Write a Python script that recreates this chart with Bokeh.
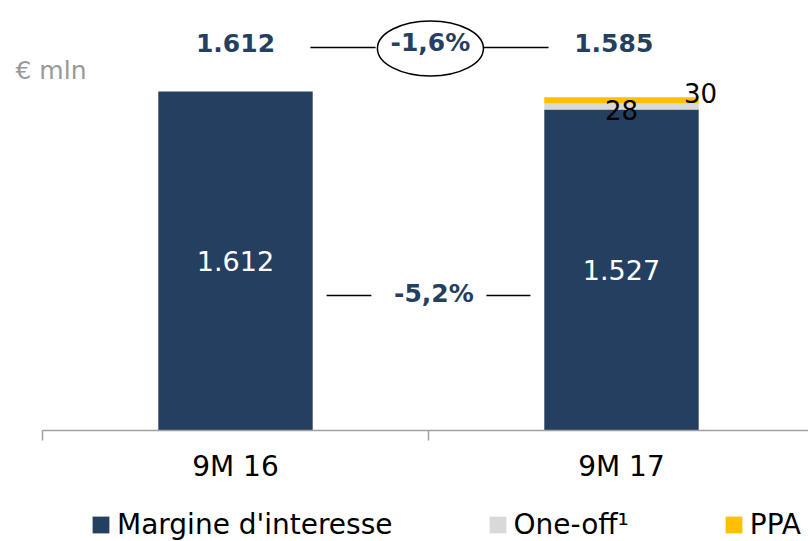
from bokeh.plotting import figure
from bokeh.models import (ColumnDataSource, FixedTicker, Legend, LegendItem, Range1d, LinearAxis)
from bokeh.core.properties import value
from bokeh.embed import file_html
from bokeh.resources import INLINE

categories = ["9M 16", "9M 17"]
margine = [1612, 1527]
one_off = [0, 28]
ppa = [0, 30]
legend_labels = ["Margine d'interesse", "One-off¹", "PPA"]
change_total = "-1,6%"
change_margine = "-5,2%"
unit_label = "€ mln"

NAVY = "#253F60"
GRAY = "#D9D9D9"
YELLOW = "#FFC000"
FONT = "DejaVu Sans"

xs = [i + 0.5 for i in range(len(categories))]
totals = [m + o + p for m, o, p in zip(margine, one_off, ppa)]
fmt = lambda v: f"{v:,}".replace(",", ".")

src = ColumnDataSource(dict(x=xs, margine=margine, one_off=one_off, ppa=ppa))

p = figure(frame_width=808, frame_height=541, output_backend="svg", toolbar_location=None,
           x_range=Range1d(-0.1088, 1.9845), y_range=Range1d(-528, 2045),
           x_axis_location=None, y_axis_location=None, min_border_left=0, min_border_right=0,
           min_border_top=0, min_border_bottom=0)
p.outline_line_color = None
p.grid.visible = False

rs = p.vbar_stack(["margine", "one_off", "ppa"], x="x", width=0.40, source=src,
                  color=[NAVY, GRAY, YELLOW], line_color=None)

ax = LinearAxis(fixed_location=0)
ax.bounds = (0, 2)
ax.ticker = FixedTicker(ticks=xs, minor_ticks=[0, 1, 2])
ax.major_label_overrides = {x: c for x, c in zip(xs, categories)}
ax.major_tick_line_color = None
ax.major_tick_out = 0
ax.minor_tick_in = 0
ax.minor_tick_out = 10
ax.minor_tick_line_color = "#A0A0A0"
ax.minor_tick_line_width = 1.5
ax.axis_line_color = "#A0A0A0"
ax.axis_line_width = 1.5
ax.major_label_standoff = 10
ax.major_label_text_font = FONT
ax.major_label_text_font_size = "28px"
ax.major_label_text_color = "black"
p.add_layout(ax, "below")

# labels inside bars
p.text(x=xs, y=[m / 2 for m in margine], text=[fmt(m) for m in margine],
       text_font=value(FONT), text_font_size="27px", text_color="white",
       text_align="center", text_baseline="middle")

# small segment labels for second bar
p.text(x=[xs[1]], y=[margine[1] + one_off[1] / 2 - 19], text=[str(one_off[1])],
       text_font=value(FONT), text_font_size="26px", text_color="black",
       text_align="center", text_baseline="middle")
p.text(x=[xs[1] + 0.205], y=[totals[1] + 20], text=[str(ppa[1])],
       text_font=value(FONT), text_font_size="26px", text_color="black",
       text_align="center", text_baseline="middle")

# top totals
top_y = 1843
line_y = 1821
p.text(x=[xs[0], xs[1] - 0.02], y=[top_y, top_y], text=[fmt(t) for t in totals],
       text_font=value(FONT), text_font_size="25px", text_font_style="bold",
       text_color=NAVY, text_align="center", text_baseline="middle")

# bridge lines and ellipse for total change
p.segment(x0=[0.694, 1.142], y0=[line_y, line_y], x1=[0.863, 1.311], y1=[line_y, line_y],
          line_color="black", line_width=1.5)
p.ellipse(x=[1.005], y=[1817], width=106, height=55, width_units="screen",
          height_units="screen", fill_color=None, line_color="black", line_width=1.5)
p.text(x=[1.005], y=[top_y], text=[change_total], text_font=value(FONT),
       text_font_size="25px", text_font_style="bold", text_color=NAVY,
       text_align="center", text_baseline="middle")

# margine change
mid_line = 642
p.segment(x0=[0.736, 1.150], y0=[mid_line, mid_line], x1=[0.852, 1.264], y1=[mid_line, mid_line],
          line_color="black", line_width=1.5)
p.text(x=[1.014], y=[651], text=[change_margine], text_font=value(FONT),
       text_font_size="25px", text_font_style="bold", text_color=NAVY,
       text_align="center", text_baseline="middle")

# unit label
p.text(x=[-0.07], y=[1712], text=[unit_label], text_font=value(FONT),
       text_font_size="25px", text_color="#999999",
       text_align="left", text_baseline="middle")

legend = Legend(items=[LegendItem(label=l, renderers=[r]) for l, r in zip(legend_labels, rs)],
                orientation="horizontal", location=(90, 0), label_text_font=FONT,
                label_text_font_size="28px", label_text_color="black",
                glyph_width=21, glyph_height=21,
                label_standoff=6, spacing=94, padding=0, margin=0,
                border_line_color=None, background_fill_alpha=0)
p.add_layout(legend, "center")

open("out.html", "w").write(file_html(p, INLINE))
